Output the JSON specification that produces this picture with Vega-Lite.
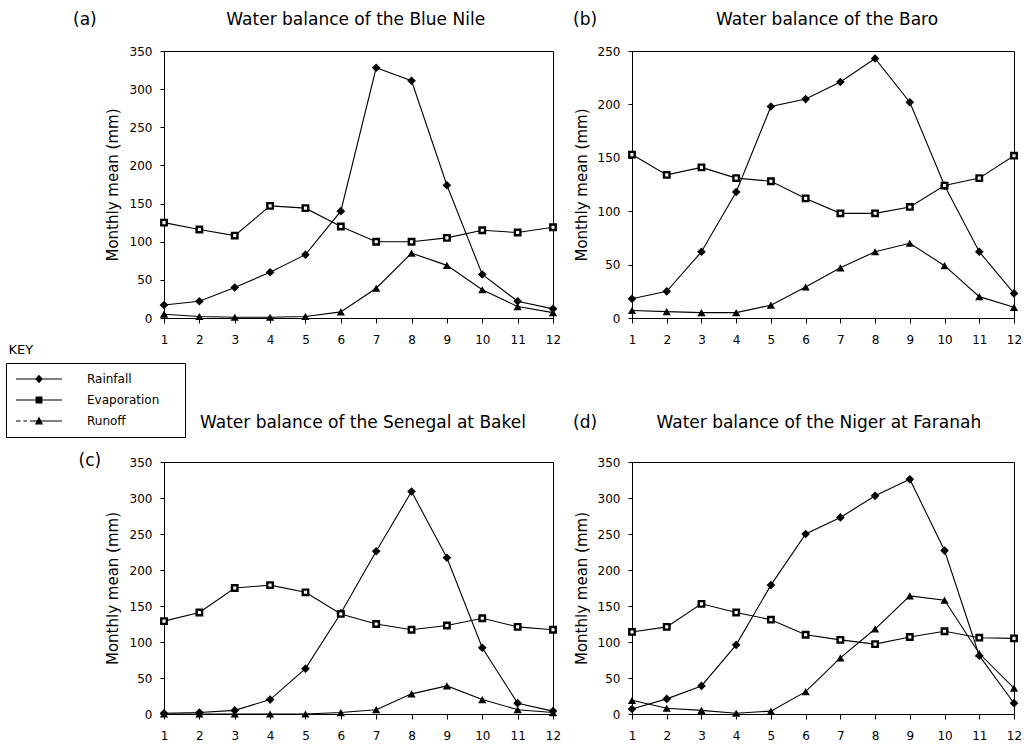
{
  "$schema": "https://vega.github.io/schema/vega-lite/v6.json",
  "padding": {"left": 5, "top": 10, "right": 5, "bottom": 5},
  "background": "white",
  "config": {
    "font": "DejaVu Sans",
    "view": {"stroke": "black", "strokeWidth": 1},
    "title": {"fontSize": 17, "fontWeight": "normal", "color": "black", "anchor": "start", "frame": "group", "align": "left", "font": "DejaVu Sans"}
  },
  "datasets": {
    "bluenile": [
      {"month":1,"series":"Rainfall","value":17},{"month":2,"series":"Rainfall","value":22},{"month":3,"series":"Rainfall","value":40},{"month":4,"series":"Rainfall","value":60},{"month":5,"series":"Rainfall","value":83},{"month":6,"series":"Rainfall","value":140},{"month":7,"series":"Rainfall","value":328},{"month":8,"series":"Rainfall","value":311},{"month":9,"series":"Rainfall","value":174},{"month":10,"series":"Rainfall","value":57},{"month":11,"series":"Rainfall","value":22},{"month":12,"series":"Rainfall","value":12},
      {"month":1,"series":"Evaporation","value":125},{"month":2,"series":"Evaporation","value":116},{"month":3,"series":"Evaporation","value":108},{"month":4,"series":"Evaporation","value":147},{"month":5,"series":"Evaporation","value":144},{"month":6,"series":"Evaporation","value":120},{"month":7,"series":"Evaporation","value":100},{"month":8,"series":"Evaporation","value":100},{"month":9,"series":"Evaporation","value":105},{"month":10,"series":"Evaporation","value":115},{"month":11,"series":"Evaporation","value":112},{"month":12,"series":"Evaporation","value":119},
      {"month":1,"series":"Runoff","value":5},{"month":2,"series":"Runoff","value":2},{"month":3,"series":"Runoff","value":1},{"month":4,"series":"Runoff","value":1},{"month":5,"series":"Runoff","value":2},{"month":6,"series":"Runoff","value":8},{"month":7,"series":"Runoff","value":39},{"month":8,"series":"Runoff","value":85},{"month":9,"series":"Runoff","value":69},{"month":10,"series":"Runoff","value":37},{"month":11,"series":"Runoff","value":15},{"month":12,"series":"Runoff","value":7}
    ],
    "baro": [
      {"month":1,"series":"Rainfall","value":18},{"month":2,"series":"Rainfall","value":25},{"month":3,"series":"Rainfall","value":62},{"month":4,"series":"Rainfall","value":118},{"month":5,"series":"Rainfall","value":198},{"month":6,"series":"Rainfall","value":205},{"month":7,"series":"Rainfall","value":221},{"month":8,"series":"Rainfall","value":243},{"month":9,"series":"Rainfall","value":202},{"month":10,"series":"Rainfall","value":124},{"month":11,"series":"Rainfall","value":62},{"month":12,"series":"Rainfall","value":23},
      {"month":1,"series":"Evaporation","value":153},{"month":2,"series":"Evaporation","value":134},{"month":3,"series":"Evaporation","value":141},{"month":4,"series":"Evaporation","value":131},{"month":5,"series":"Evaporation","value":128},{"month":6,"series":"Evaporation","value":112},{"month":7,"series":"Evaporation","value":98},{"month":8,"series":"Evaporation","value":98},{"month":9,"series":"Evaporation","value":104},{"month":10,"series":"Evaporation","value":124},{"month":11,"series":"Evaporation","value":131},{"month":12,"series":"Evaporation","value":152},
      {"month":1,"series":"Runoff","value":7},{"month":2,"series":"Runoff","value":6},{"month":3,"series":"Runoff","value":5},{"month":4,"series":"Runoff","value":5},{"month":5,"series":"Runoff","value":12},{"month":6,"series":"Runoff","value":29},{"month":7,"series":"Runoff","value":47},{"month":8,"series":"Runoff","value":62},{"month":9,"series":"Runoff","value":70},{"month":10,"series":"Runoff","value":49},{"month":11,"series":"Runoff","value":20},{"month":12,"series":"Runoff","value":10}
    ],
    "senegal": [
      {"month":1,"series":"Rainfall","value":1},{"month":2,"series":"Rainfall","value":2},{"month":3,"series":"Rainfall","value":5},{"month":4,"series":"Rainfall","value":20},{"month":5,"series":"Rainfall","value":63},{"month":6,"series":"Rainfall","value":140},{"month":7,"series":"Rainfall","value":226},{"month":8,"series":"Rainfall","value":309},{"month":9,"series":"Rainfall","value":217},{"month":10,"series":"Rainfall","value":92},{"month":11,"series":"Rainfall","value":15},{"month":12,"series":"Rainfall","value":4},
      {"month":1,"series":"Evaporation","value":129},{"month":2,"series":"Evaporation","value":141},{"month":3,"series":"Evaporation","value":175},{"month":4,"series":"Evaporation","value":179},{"month":5,"series":"Evaporation","value":169},{"month":6,"series":"Evaporation","value":139},{"month":7,"series":"Evaporation","value":125},{"month":8,"series":"Evaporation","value":117},{"month":9,"series":"Evaporation","value":123},{"month":10,"series":"Evaporation","value":133},{"month":11,"series":"Evaporation","value":121},{"month":12,"series":"Evaporation","value":117},
      {"month":1,"series":"Runoff","value":0},{"month":2,"series":"Runoff","value":0},{"month":3,"series":"Runoff","value":0},{"month":4,"series":"Runoff","value":0},{"month":5,"series":"Runoff","value":0},{"month":6,"series":"Runoff","value":2},{"month":7,"series":"Runoff","value":6},{"month":8,"series":"Runoff","value":28},{"month":9,"series":"Runoff","value":39},{"month":10,"series":"Runoff","value":20},{"month":11,"series":"Runoff","value":6},{"month":12,"series":"Runoff","value":2}
    ],
    "niger": [
      {"month":1,"series":"Rainfall","value":7},{"month":2,"series":"Rainfall","value":21},{"month":3,"series":"Rainfall","value":39},{"month":4,"series":"Rainfall","value":96},{"month":5,"series":"Rainfall","value":179},{"month":6,"series":"Rainfall","value":250},{"month":7,"series":"Rainfall","value":273},{"month":8,"series":"Rainfall","value":303},{"month":9,"series":"Rainfall","value":326},{"month":10,"series":"Rainfall","value":227},{"month":11,"series":"Rainfall","value":81},{"month":12,"series":"Rainfall","value":15},
      {"month":1,"series":"Evaporation","value":114},{"month":2,"series":"Evaporation","value":121},{"month":3,"series":"Evaporation","value":153},{"month":4,"series":"Evaporation","value":141},{"month":5,"series":"Evaporation","value":131},{"month":6,"series":"Evaporation","value":110},{"month":7,"series":"Evaporation","value":103},{"month":8,"series":"Evaporation","value":97},{"month":9,"series":"Evaporation","value":107},{"month":10,"series":"Evaporation","value":115},{"month":11,"series":"Evaporation","value":106},{"month":12,"series":"Evaporation","value":105},
      {"month":1,"series":"Runoff","value":19},{"month":2,"series":"Runoff","value":8},{"month":3,"series":"Runoff","value":5},{"month":4,"series":"Runoff","value":1},{"month":5,"series":"Runoff","value":4},{"month":6,"series":"Runoff","value":31},{"month":7,"series":"Runoff","value":78},{"month":8,"series":"Runoff","value":118},{"month":9,"series":"Runoff","value":164},{"month":10,"series":"Runoff","value":158},{"month":11,"series":"Runoff","value":84},{"month":12,"series":"Runoff","value":36}
    ]
  },
  "columns": 2,
  "spacing": {"row": 144, "column": 79},
  "bounds": "flush",
  "align": "each",
  "resolve": {"scale": {"shape": "independent"}, "legend": {"shape": "independent"}},
  "concat": [
    {
      "width": 389, "height": 267,
      "data": {"name": "bluenile"},
      "title": {"text": "(a)\u00a0\u00a0\u00a0\u00a0\u00a0\u00a0\u00a0\u00a0\u00a0\u00a0\u00a0\u00a0\u00a0\u00a0\u00a0\u00a0\u00a0\u00a0\u00a0\u00a0\u00a0\u00a0\u00a0\u00a0Water balance of the Blue Nile", "dx": -91, "offset": 16},
      "encoding": {
        "x": {"field": "month", "type": "quantitative", "scale": {"domain": [1, 12], "nice": false, "zero": false}, "axis": {"values": [1,2,3,4,5,6,7,8,9,10,11,12], "format": "d", "labelOverlap": false, "labelFlush": false, "grid": false, "domainColor": "black", "tickColor": "black", "labelColor": "black", "labelFontSize": 12, "tickSize": 5, "labelPadding": 11, "labelAngle": 0, "title": "KEY", "titleColor": "black", "titleFontWeight": "normal", "titleAnchor": "start", "titleAlign": "left", "titleBaseline": "middle", "titleX": -156, "titleY": 31, "titleFontSize": 13}},
        "y": {"field": "value", "type": "quantitative", "scale": {"domain": [0, 350], "nice": false}, "axis": {"values": [0,50,100,150,200,250,300,350], "labelOverlap": false, "labelFlush": false, "grid": false, "domainColor": "black", "tickColor": "black", "labelColor": "black", "labelFontSize": 12, "tickSize": 4, "labelPadding": 8, "title": "Monthly mean (mm)", "titleColor": "black", "titleFontWeight": "normal", "titleFontSize": 15, "titlePadding": 9}}
      },
      "resolve": {"scale": {"shape": "independent"}},
      "layer": [
        {"mark": {"type": "line", "color": "black", "strokeWidth": 1.1}, "encoding": {"detail": {"field": "series"}}},
        {"transform": [{"filter": "datum.series == 'Rainfall'"}], "mark": {"type": "point", "shape": "diamond", "filled": true, "color": "black", "opacity": 1, "size": 75}, "encoding": {}},
        {"transform": [{"filter": "datum.series == 'Evaporation'"}], "mark": {"type": "point", "shape": "square", "fill": "white", "stroke": "black", "strokeWidth": 2.4, "opacity": 1, "size": 30}, "encoding": {}},
        {"transform": [{"filter": "datum.series == 'Runoff'"}], "mark": {"type": "point", "shape": "triangle-up", "filled": true, "color": "black", "opacity": 1, "size": 68}, "encoding": {}},
        {
          "mark": {"type": "point", "filled": true, "color": "black", "opacity": 0},
          "encoding": {
            "shape": {"field": "series", "type": "nominal", "scale": {"domain": ["Rainfall", "Evaporation", "Runoff"], "range": ["M-1,-0.025H1V0.025H-1ZM0,-0.19L0.17,0L0,0.19L-0.17,0Z", "M-1,-0.025H1V0.025H-1ZM-0.15,-0.15H0.15V0.15H-0.15Z", "M-1,-0.022H-0.8V0.022H-1ZM-0.68,-0.022H-0.52V0.022H-0.68ZM-0.4,-0.022H1V0.022H-0.4ZM0,-0.2L0.18,0.15H-0.18Z"]},
              "legend": {"orient": "none", "legendX": -158, "legendY": 312, "title": null, "direction": "vertical", "strokeColor": "black", "fillColor": "white", "padding": 6, "clipHeight": 20, "rowPadding": 1, "symbolSize": 2116, "symbolOffset": 4, "labelOffset": 25, "labelFontSize": 12, "labelColor": "black", "labelFont": "DejaVu Sans", "labelExpr": "datum.label + '\u00a0\u00a0\u00a0\u00a0\u00a0\u200b'", "symbolOpacity": 1, "symbolFillColor": "black", "symbolStrokeColor": "black", "symbolStrokeWidth": 0}}
          }
        }
      ]
    },
    {
      "width": 382, "height": 267,
      "data": {"name": "baro"},
      "title": {"text": "(b)\u00a0\u00a0\u00a0\u00a0\u00a0\u00a0\u00a0\u00a0\u00a0\u00a0\u00a0\u00a0\u00a0\u00a0\u00a0\u00a0\u00a0\u00a0\u00a0\u00a0\u00a0\u00a0Water balance of the Baro", "dx": -59, "offset": 16},
      "encoding": {
        "x": {"field": "month", "type": "quantitative", "scale": {"domain": [1, 12], "nice": false, "zero": false}, "axis": {"values": [1,2,3,4,5,6,7,8,9,10,11,12], "format": "d", "labelOverlap": false, "labelFlush": false, "grid": false, "domainColor": "black", "tickColor": "black", "labelColor": "black", "labelFontSize": 12, "tickSize": 5, "labelPadding": 11, "labelAngle": 0, "title": null}},
        "y": {"field": "value", "type": "quantitative", "scale": {"domain": [0, 250], "nice": false}, "axis": {"values": [0,50,100,150,200,250], "labelOverlap": false, "labelFlush": false, "grid": false, "domainColor": "black", "tickColor": "black", "labelColor": "black", "labelFontSize": 12, "tickSize": 4, "labelPadding": 8, "title": "Monthly mean (mm)", "titleColor": "black", "titleFontWeight": "normal", "titleFontSize": 15, "titlePadding": 8}}
      },
      "layer": [
        {"mark": {"type": "line", "color": "black", "strokeWidth": 1.1}, "encoding": {"detail": {"field": "series"}}},
        {"transform": [{"filter": "datum.series == 'Rainfall'"}], "mark": {"type": "point", "shape": "diamond", "filled": true, "color": "black", "opacity": 1, "size": 75}, "encoding": {}},
        {"transform": [{"filter": "datum.series == 'Evaporation'"}], "mark": {"type": "point", "shape": "square", "fill": "white", "stroke": "black", "strokeWidth": 2.4, "opacity": 1, "size": 30}, "encoding": {}},
        {"transform": [{"filter": "datum.series == 'Runoff'"}], "mark": {"type": "point", "shape": "triangle-up", "filled": true, "color": "black", "opacity": 1, "size": 68}, "encoding": {}}
      ]
    },
    {
      "width": 389, "height": 252,
      "data": {"name": "senegal"},
      "title": {"text": "Water balance of the Senegal at Bakel", "dx": 36, "offset": 19},
      "encoding": {
        "x": {"field": "month", "type": "quantitative", "scale": {"domain": [1, 12], "nice": false, "zero": false}, "axis": {"values": [1,2,3,4,5,6,7,8,9,10,11,12], "format": "d", "labelOverlap": false, "labelFlush": false, "grid": false, "domainColor": "black", "tickColor": "black", "labelColor": "black", "labelFontSize": 12, "tickSize": 5, "labelPadding": 11, "labelAngle": 0, "title": "(c)", "titleColor": "black", "titleFontWeight": "normal", "titleFontSize": 17, "titleAnchor": "start", "titleAlign": "left", "titleBaseline": "middle", "titleX": -86, "titleY": -254}},
        "y": {"field": "value", "type": "quantitative", "scale": {"domain": [0, 350], "nice": false}, "axis": {"values": [0,50,100,150,200,250,300,350], "labelOverlap": false, "labelFlush": false, "grid": false, "domainColor": "black", "tickColor": "black", "labelColor": "black", "labelFontSize": 12, "tickSize": 4, "labelPadding": 8, "title": "Monthly mean (mm)", "titleColor": "black", "titleFontWeight": "normal", "titleFontSize": 15, "titlePadding": 9}}
      },
      "layer": [
        {"mark": {"type": "line", "color": "black", "strokeWidth": 1.1}, "encoding": {"detail": {"field": "series"}}},
        {"transform": [{"filter": "datum.series == 'Rainfall'"}], "mark": {"type": "point", "shape": "diamond", "filled": true, "color": "black", "opacity": 1, "size": 75}, "encoding": {}},
        {"transform": [{"filter": "datum.series == 'Evaporation'"}], "mark": {"type": "point", "shape": "square", "fill": "white", "stroke": "black", "strokeWidth": 2.4, "opacity": 1, "size": 30}, "encoding": {}},
        {"transform": [{"filter": "datum.series == 'Runoff'"}], "mark": {"type": "point", "shape": "triangle-up", "filled": true, "color": "black", "opacity": 1, "size": 68}, "encoding": {}}
      ]
    },
    {
      "width": 382, "height": 252,
      "data": {"name": "niger"},
      "title": {"text": "(d)\u00a0\u00a0\u00a0\u00a0\u00a0\u00a0\u00a0\u00a0\u00a0\u00a0\u00a0Water balance of the Niger at Faranah", "dx": -59, "offset": 24},
      "encoding": {
        "x": {"field": "month", "type": "quantitative", "scale": {"domain": [1, 12], "nice": false, "zero": false}, "axis": {"values": [1,2,3,4,5,6,7,8,9,10,11,12], "format": "d", "labelOverlap": false, "labelFlush": false, "grid": false, "domainColor": "black", "tickColor": "black", "labelColor": "black", "labelFontSize": 12, "tickSize": 5, "labelPadding": 11, "labelAngle": 0, "title": null}},
        "y": {"field": "value", "type": "quantitative", "scale": {"domain": [0, 350], "nice": false}, "axis": {"values": [0,50,100,150,200,250,300,350], "labelOverlap": false, "labelFlush": false, "grid": false, "domainColor": "black", "tickColor": "black", "labelColor": "black", "labelFontSize": 12, "tickSize": 4, "labelPadding": 8, "title": "Monthly mean (mm)", "titleColor": "black", "titleFontWeight": "normal", "titleFontSize": 15, "titlePadding": 8}}
      },
      "layer": [
        {"mark": {"type": "line", "color": "black", "strokeWidth": 1.1}, "encoding": {"detail": {"field": "series"}}},
        {"transform": [{"filter": "datum.series == 'Rainfall'"}], "mark": {"type": "point", "shape": "diamond", "filled": true, "color": "black", "opacity": 1, "size": 75}, "encoding": {}},
        {"transform": [{"filter": "datum.series == 'Evaporation'"}], "mark": {"type": "point", "shape": "square", "fill": "white", "stroke": "black", "strokeWidth": 2.4, "opacity": 1, "size": 30}, "encoding": {}},
        {"transform": [{"filter": "datum.series == 'Runoff'"}], "mark": {"type": "point", "shape": "triangle-up", "filled": true, "color": "black", "opacity": 1, "size": 68}, "encoding": {}}
      ]
    }
  ]
}
